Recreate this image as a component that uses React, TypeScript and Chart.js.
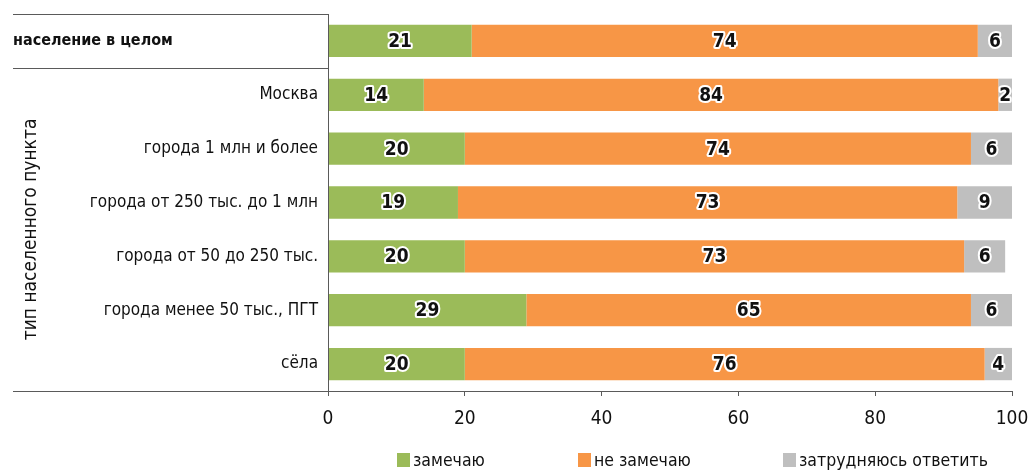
import React, { useEffect, useRef } from "react";
import { Chart, registerables } from "chart.js";

Chart.register(...registerables);

const categories = [
  "население в целом",
  "Москва",
  "города 1 млн и более",
  "города от 250 тыс. до 1 млн",
  "города от 50 до 250 тыс.",
  "города менее 50 тыс., ПГТ",
  "сёла",
];
const notice = [21, 14, 20, 19, 20, 29, 20];
const dontNotice = [74, 84, 74, 73, 73, 65, 76];
const hardToSay = [6, 2, 6, 9, 6, 6, 4];
const seriesNames = ["замечаю", "не замечаю", "затрудняюсь ответить"];
const seriesColors = ["#9BBB59", "#F79646", "#BFBFBF"];
const xTicks = [0, 20, 40, 60, 80, 100];
const groupTitle = "тип населенного пункта";

const FONT = '"Liberation Sans Narrow", "DejaVu Sans Condensed", sans-serif';
const LINE = "#5a5a5a";

const overlay = {
  id: "overlay",
  afterDatasetsDraw(chart: any) {
    const { ctx, chartArea } = chart;
    ctx.save();
    ctx.font = `bold 19px ${FONT}`;
    ctx.textAlign = "center";
    ctx.textBaseline = "middle";
    ctx.lineJoin = "round";
    chart.data.datasets.forEach((ds: any, di: number) => {
      const meta = chart.getDatasetMeta(di);
      meta.data.forEach((bar: any, i: number) => {
        const p = bar.getProps(["x", "y", "base"], true);
        const left = Math.min(p.base, p.x);
        const right = Math.min(Math.max(p.base, p.x), chartArea.right);
        const cx = (left + right) / 2;
        const txt = String(ds.data[i]);
        ctx.lineWidth = 4;
        ctx.strokeStyle = "#ffffff";
        ctx.strokeText(txt, cx, p.y + 1);
        ctx.fillStyle = "#111111";
        ctx.fillText(txt, cx, p.y + 1);
      });
    });
    ctx.restore();
  },
  afterDraw(chart: any) {
    const { ctx, chartArea, scales } = chart;
    const x = scales.x;
    const y = scales.y;
    const axisX = chartArea.left;
    const leftEdge = 13;
    ctx.save();
    ctx.strokeStyle = LINE;
    ctx.lineWidth = 1;
    const sep = (y.getPixelForValue(0) + y.getPixelForValue(1)) / 2;
    const hline = (yy: number, x1: number, x2: number) => {
      ctx.beginPath();
      ctx.moveTo(x1, Math.round(yy) + 0.5);
      ctx.lineTo(x2, Math.round(yy) + 0.5);
      ctx.stroke();
    };
    hline(chartArea.top, leftEdge, axisX);
    hline(sep, leftEdge, axisX);
    hline(chartArea.bottom, leftEdge, chartArea.right);
    ctx.beginPath();
    ctx.moveTo(Math.round(axisX) + 0.5, chartArea.top);
    ctx.lineTo(Math.round(axisX) + 0.5, chartArea.bottom + 5);
    ctx.stroke();

    // x tick labels
    ctx.fillStyle = "#111111";
    ctx.font = `19px ${FONT}`;
    ctx.textAlign = "center";
    ctx.textBaseline = "middle";
    xTicks.forEach((v) => {
      ctx.fillText(String(v), x.getPixelForValue(v), chartArea.bottom + 28);
    });

    // category labels
    categories.forEach((c, i) => {
      const yy = y.getPixelForValue(i);
      if (i === 0) {
        ctx.font = `bold 16px ${FONT}`;
        ctx.textAlign = "left";
        ctx.fillText(c, leftEdge, yy);
      } else {
        ctx.font = `17px ${FONT}`;
        ctx.textAlign = "right";
        ctx.fillText(c, axisX - 10, yy);
      }
    });

    // rotated group title
    const gy = (y.getPixelForValue(1) + y.getPixelForValue(categories.length - 1)) / 2;
    ctx.save();
    ctx.translate(31, gy);
    ctx.rotate(-Math.PI / 2);
    ctx.font = `19px ${FONT}`;
    ctx.textAlign = "center";
    ctx.fillText(groupTitle, 0, 0);
    ctx.restore();

    // legend
    const starts = [397, 578, 783];
    const ly = 460;
    ctx.font = `17.5px ${FONT}`;
    ctx.textAlign = "left";
    seriesNames.forEach((n, i) => {
      ctx.fillStyle = seriesColors[i];
      ctx.fillRect(starts[i], ly - 7, 13, 14);
      ctx.fillStyle = "#111111";
      ctx.fillText(n, starts[i] + 16, ly + 1);
    });
    ctx.restore();
  },
};

export default function App() {
  const ref = useRef<HTMLCanvasElement | null>(null);
  useEffect(() => {
    if (!ref.current) return;
    const chart = new Chart(ref.current, {
      type: "bar",
      data: {
        labels: categories,
        datasets: [notice, dontNotice, hardToSay].map((d, i) => ({
          label: seriesNames[i],
          data: d,
          backgroundColor: seriesColors[i],
          borderWidth: 0,
          categoryPercentage: 1,
          barPercentage: 0.6,
        })),
      },
      options: {
        indexAxis: "y",
        animation: false,
        responsive: false,
        maintainAspectRatio: false,
        layout: { padding: { left: 328, right: 17, top: 14, bottom: 74 } },
        plugins: { legend: { display: false }, tooltip: { enabled: false } },
        scales: {
          x: {
            stacked: true,
            min: 0,
            max: 100,
            afterBuildTicks: (s: any) => {
              s.ticks = xTicks.map((v) => ({ value: v }));
            },
            grid: { drawOnChartArea: false, drawTicks: true, tickLength: 5, color: LINE },
            border: { display: true, color: LINE },
            ticks: { display: false },
          },
          y: { stacked: true, display: false },
        },
      },
      plugins: [overlay],
    } as any);
    return () => chart.destroy();
  }, []);
  return (
    <div style={{ position: "fixed", left: 0, top: 0, width: 1029, height: 470, background: "#fff" }}>
      <canvas ref={ref} width={1029} height={470} />
    </div>
  );
}
